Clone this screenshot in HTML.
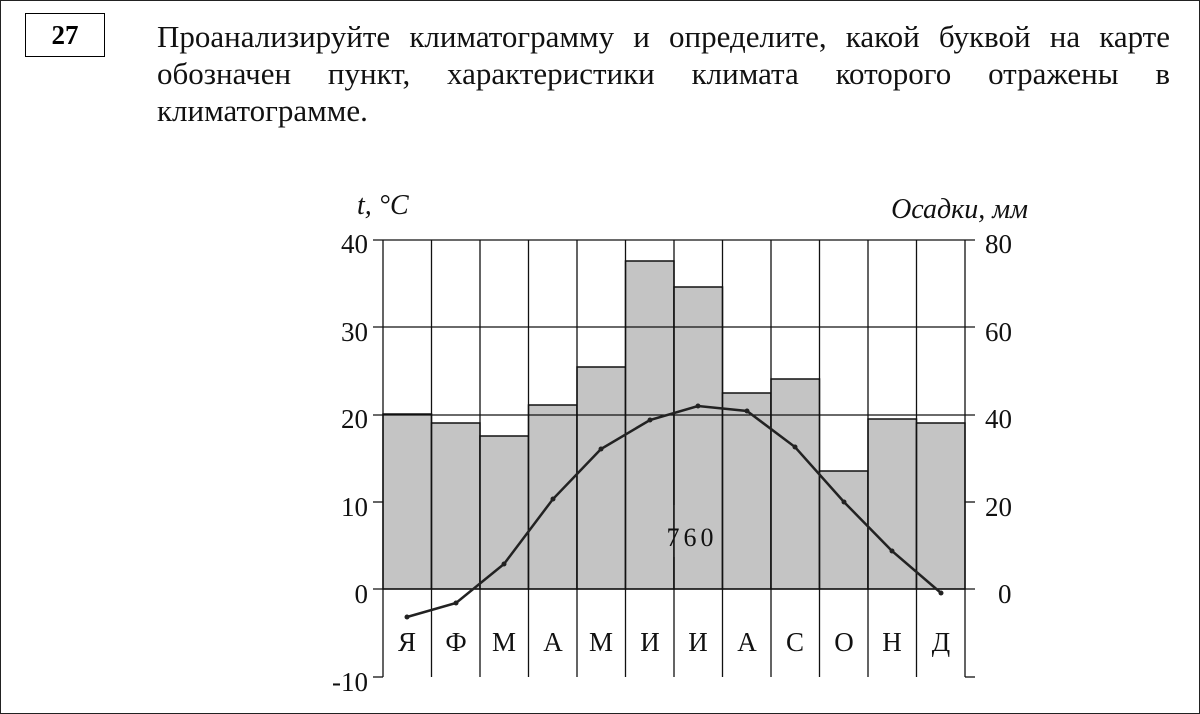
<!DOCTYPE html>
<html><head><meta charset="utf-8"><style>
body{margin:0;width:1200px;height:714px;background:#fff;overflow:hidden;font-family:"Liberation Serif",serif;}
.frame{position:absolute;left:0;top:0;width:1198px;height:712px;border:1px solid #222;}
.num{position:absolute;left:25px;top:13px;width:78px;height:42px;border:1.5px solid #000;font-weight:bold;font-size:27px;text-align:center;line-height:42px;}
.txt{position:absolute;left:157px;top:18px;width:1013px;font-size:31px;line-height:37px;color:#111;}
.j{text-align:justify;text-align-last:justify;white-space:nowrap;}
</style></head><body>
<div class="frame"></div>
<div class="num">27</div>
<div class="txt"><div class="j">Проанализируйте климатограмму и определите, какой буквой на карте</div><div class="j">обозначен пункт, характеристики климата которого отражены в</div><div>климатограмме.</div></div>
<svg width="1200" height="714" style="position:absolute;left:0;top:0" font-family="Liberation Serif, serif">
<g fill="#c4c4c4" stroke="#111" stroke-width="1.5">
<rect x="383" y="414" width="48.5" height="175"/>
<rect x="431.5" y="423" width="48.5" height="166"/>
<rect x="480" y="436" width="48.5" height="153"/>
<rect x="528.5" y="405" width="48.5" height="184"/>
<rect x="577" y="367" width="48.5" height="222"/>
<rect x="625.5" y="261" width="48.5" height="328"/>
<rect x="674" y="287" width="48.5" height="302"/>
<rect x="722.5" y="393" width="48.5" height="196"/>
<rect x="771" y="379" width="48.5" height="210"/>
<rect x="819.5" y="471" width="48.5" height="118"/>
<rect x="868" y="419" width="48.5" height="170"/>
<rect x="916.5" y="423" width="48.5" height="166"/>
</g>
<g stroke="#111" stroke-width="1.3">
<line x1="373" y1="240" x2="975" y2="240"/>
<line x1="373" y1="327" x2="975" y2="327"/>
<line x1="373" y1="415" x2="975" y2="415"/>
<line x1="373" y1="502" x2="383" y2="502"/><line x1="965" y1="502" x2="975" y2="502"/>
<line x1="373" y1="589" x2="975" y2="589"/>
<line x1="373" y1="677" x2="383" y2="677"/><line x1="965" y1="677" x2="975" y2="677"/>
<line x1="383" y1="240" x2="383" y2="677"/><line x1="965" y1="240" x2="965" y2="677"/>
<line x1="431.5" y1="240" x2="431.5" y2="677"/><line x1="480" y1="240" x2="480" y2="677"/>
<line x1="528.5" y1="240" x2="528.5" y2="677"/><line x1="577" y1="240" x2="577" y2="677"/>
<line x1="625.5" y1="240" x2="625.5" y2="677"/><line x1="674" y1="240" x2="674" y2="505"/>
<line x1="674" y1="557" x2="674" y2="677"/>
<line x1="722.5" y1="240" x2="722.5" y2="677"/><line x1="771" y1="240" x2="771" y2="677"/>
<line x1="819.5" y1="240" x2="819.5" y2="677"/><line x1="868" y1="240" x2="868" y2="677"/>
<line x1="916.5" y1="240" x2="916.5" y2="677"/>
</g>
<polyline fill="none" stroke="#222" stroke-width="2.5" points="407,617 456,603 504,564 553,499 601,449 650,420 698,406 747,411 795,447 844,502 892,551 941,593"/>
<g fill="#222"><circle cx="407" cy="617" r="2.5"/><circle cx="456" cy="603" r="2.5"/><circle cx="504" cy="564" r="2.5"/><circle cx="553" cy="499" r="2.5"/><circle cx="601" cy="449" r="2.5"/><circle cx="650" cy="420" r="2.5"/><circle cx="698" cy="406" r="2.5"/><circle cx="747" cy="411" r="2.5"/><circle cx="795" cy="447" r="2.5"/><circle cx="844" cy="502" r="2.5"/><circle cx="892" cy="551" r="2.5"/><circle cx="941" cy="593" r="2.5"/></g>
<g font-size="27" fill="#111" text-anchor="end">
<text x="368" y="253">40</text><text x="368" y="341">30</text><text x="368" y="428">20</text><text x="368" y="516">10</text><text x="368" y="603">0</text><text x="368" y="691">-10</text>
</g>
<g font-size="27" fill="#111">
<text x="985" y="253">80</text><text x="985" y="341">60</text><text x="985" y="428">40</text><text x="985" y="516">20</text><text x="998" y="603">0</text>
</g>
<text x="357" y="214" font-size="28" font-style="italic" fill="#111">t, °C</text>
<text x="1028" y="218" font-size="28" font-style="italic" fill="#111" text-anchor="end">Осадки, мм</text>
<text x="692" y="546" font-size="26" fill="#111" text-anchor="middle" letter-spacing="4">760</text>
<g font-size="27" fill="#111" text-anchor="middle">
<text x="407" y="651">Я</text><text x="456" y="651">Ф</text><text x="504" y="651">М</text><text x="553" y="651">А</text><text x="601" y="651">М</text><text x="650" y="651">И</text><text x="698" y="651">И</text><text x="747" y="651">А</text><text x="795" y="651">С</text><text x="844" y="651">О</text><text x="892" y="651">Н</text><text x="941" y="651">Д</text>
</g>
</svg>
</body></html>
